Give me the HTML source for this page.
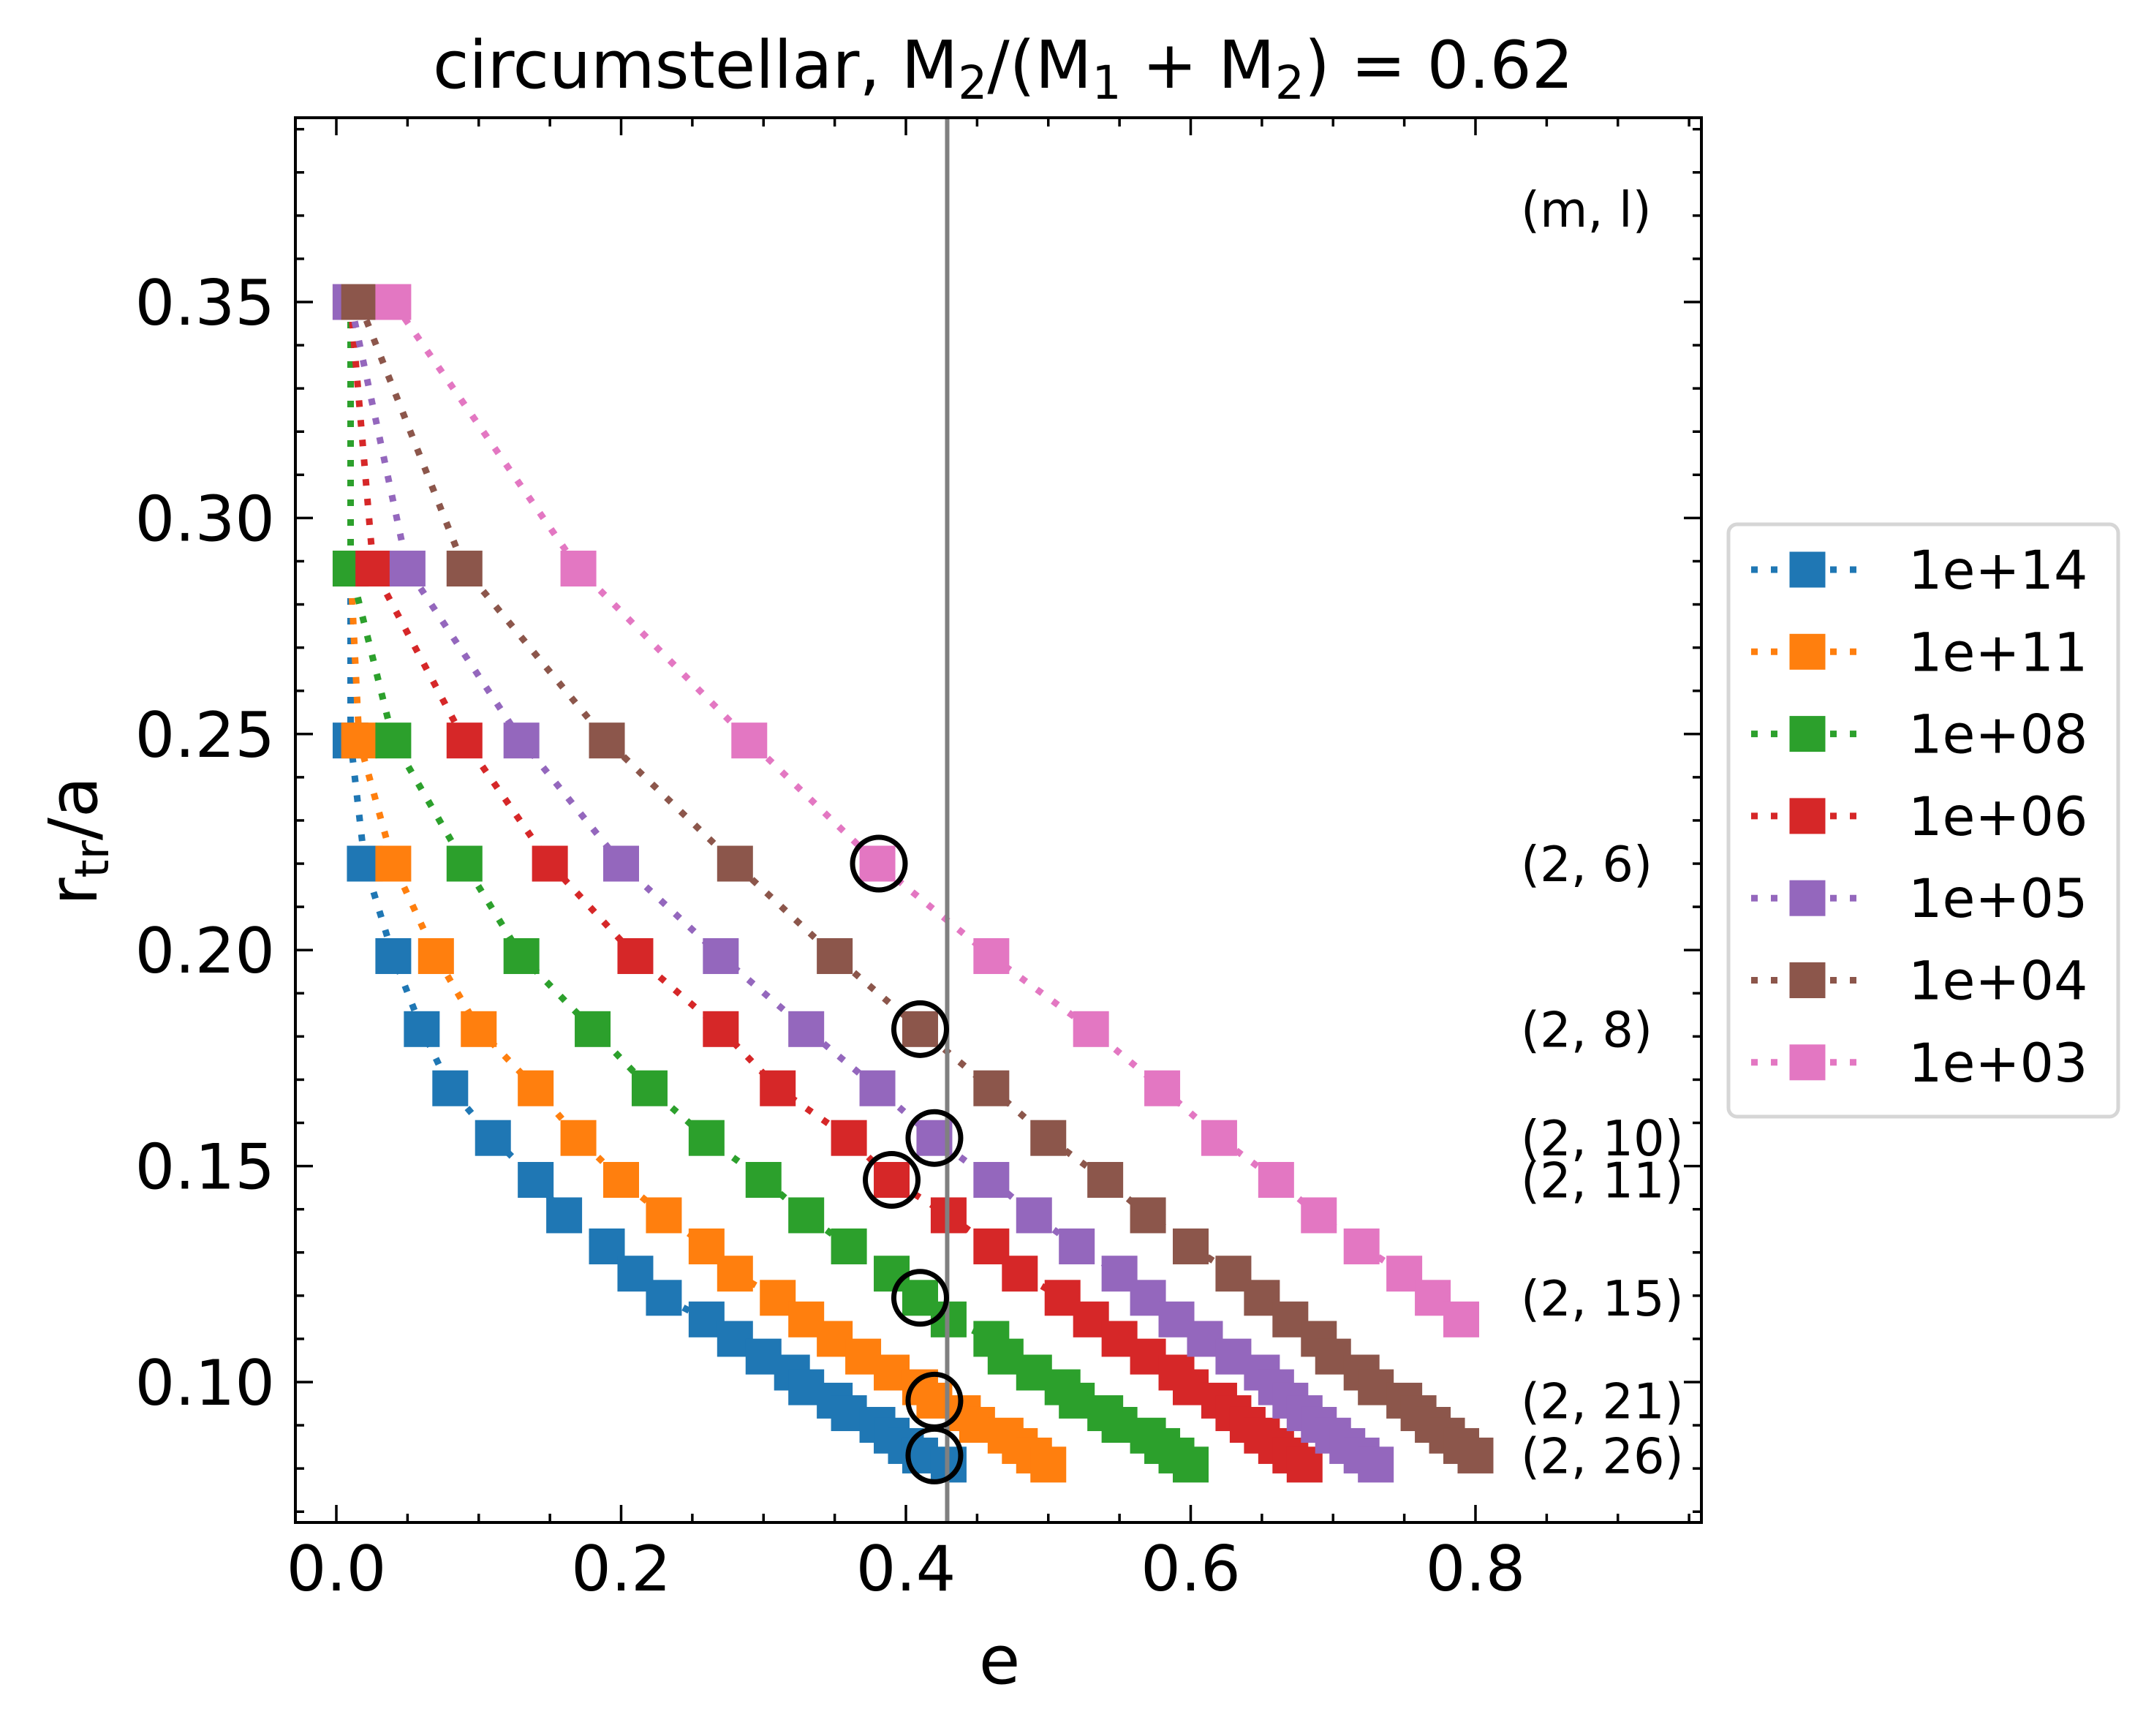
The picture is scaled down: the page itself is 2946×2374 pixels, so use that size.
<!DOCTYPE html>
<html><head><meta charset="utf-8">
<style>
html,body{margin:0;padding:0;background:#fff;}
svg{display:block;font-family:"DejaVu Sans","Liberation Sans",sans-serif;}
</style></head>
<body>
<svg id="chart" width="2946" height="2374" viewBox="0 0 2946 2374" xmlns="http://www.w3.org/2000/svg">
<rect width="2946" height="2374" fill="#fff"/>
<text x="1372" y="120" font-size="90" text-anchor="middle">circumstellar, M<tspan font-size="63" dy="15">2</tspan><tspan dy="-15">/(M</tspan><tspan font-size="63" dy="15">1</tspan><tspan dy="-15"> + M</tspan><tspan font-size="63" dy="15">2</tspan><tspan dy="-15">) = 0.62</tspan></text>
<g id="plot"></g>
<g id="axes"></g>
<text x="1367" y="2302" font-size="92" text-anchor="middle">e</text>
<text transform="translate(132,1150) rotate(-90)" font-size="92" text-anchor="middle">r<tspan font-size="64" dy="16">tr</tspan><tspan dy="-16">/a</tspan></text>
<g id="legend"></g>
</svg>
<script>
const rLevels = [0.350,0.2883,0.2485,0.2200,0.1986,0.1817,0.1680,0.1565,0.1468,0.1386,0.1314,0.1251,0.1195,0.1145,0.1100,0.1059,0.1022,0.0988,0.0957,0.0928,0.0901,0.0876,0.0852,0.0830,0.0809];
const seriesNames = ["1e+14","1e+11","1e+08","1e+06","1e+05","1e+04","1e+03"];
const seriesColors = ["#1f77b4","#ff7f0e","#2ca02c","#d62728","#9467bd","#8c564b","#e377c2"];
const eBlue   = [0.01,0.01,0.01,0.02,0.04,0.06,0.08,0.11,0.14,0.16,0.19,0.21,0.23,0.26,0.28,0.30,0.32,0.33,0.35,0.36,0.38,0.39,0.40,0.41,0.43];
const eOrange = [0.01,0.01,0.016,0.04,0.07,0.10,0.14,0.17,0.20,0.23,0.26,0.28,0.31,0.33,0.35,0.37,0.39,0.41,0.42,0.44,0.45,0.47,0.48,0.49,0.50];
const eGreen  = [0.01,0.01,0.04,0.09,0.13,0.18,0.22,0.26,0.30,0.33,0.36,0.39,0.41,0.43,0.46,0.47,0.49,0.51,0.52,0.54,0.55,0.57,0.58,0.59,0.60];
const eRed    = [0.01,0.026,0.09,0.15,0.21,0.27,0.31,0.36,0.39,0.43,0.46,0.48,0.51,0.53,0.55,0.57,0.59,0.60,0.62,0.63,0.64,0.65,0.66,0.67,0.68];
const ePurple = [0.01,0.05,0.13,0.20,0.27,0.33,0.38,0.42,0.46,0.49,0.52,0.55,0.57,0.59,0.61,0.63,0.65,0.66,0.67,0.68,0.69,0.70,0.71,0.72,0.73];
const eBrown  = [0.016,0.09,0.19,0.28,0.35,0.41,0.46,0.50,0.54,0.57,0.60,0.63,0.65,0.67,0.69,0.70,0.72,0.73,0.75,0.76,0.77,0.78,0.79,0.80];
const ePink   = [0.04,0.17,0.29,0.38,0.46,0.53,0.58,0.62,0.66,0.69,0.72,0.75,0.77,0.79];
const circleE = [0.381,0.41,0.42,0.39,0.41,0.42,0.42];
const circleR = [0.2200,0.1817,0.1565,0.1468,0.1195,0.0957,0.0830];
const resLabels = ["(2, 6)","(2, 8)","(2, 10)","(2, 11)","(2, 15)","(2, 21)","(2, 26)"];
const resLabelR = [0.2200,0.1817,0.1565,0.1468,0.1195,0.0957,0.0830];
const xTicks = [0.0,0.2,0.4,0.6,0.8];
const xTickLabels = ["0.0","0.2","0.4","0.6","0.8"];
const yTicks = [0.10,0.15,0.20,0.25,0.30,0.35];
const yTickLabels = ["0.10","0.15","0.20","0.25","0.30","0.35"];
const vLineE = 0.429;

const NS="http://www.w3.org/2000/svg";
const L=404,R=2327,T=161,B=2082;
const X0=460,XS=1947.5,Y0=413,YS=5908;
function xs(e){return X0+e*XS;}
function ys(r){return Y0+(0.35-r)*YS;}
function mk(tag,attrs,parent){const el=document.createElementNS(NS,tag);for(const k in attrs)el.setAttribute(k,attrs[k]);parent.appendChild(el);return el;}
const plot=document.getElementById('plot'), axes=document.getElementById('axes'), legend=document.getElementById('legend');
const cp=mk('clipPath',{id:'clip'},plot);
mk('rect',{x:L,y:T,width:R-L,height:B-T},cp);
const pg=mk('g',{'clip-path':'url(#clip)'},plot);

const allE=[eBlue,eOrange,eGreen,eRed,ePurple,eBrown,ePink];
const M=49;
allE.forEach((arr,si)=>{
  const g=mk('g',{},pg);
  
  
  const pts=arr.map((e,i)=>xs(e).toFixed(1)+','+ys(rLevels[i]).toFixed(1)).join(' ');
  const pl=mk('polyline',{points:pts,fill:'none',stroke:seriesColors[si],'stroke-width':9,'stroke-dasharray':'9 18'},g);
  
  
  arr.forEach((e,i)=>{
    const r=mk('rect',{x:xs(e)-M/2,y:ys(rLevels[i])-M/2,width:M,height:M,fill:seriesColors[si]},g);
    
    
  });
});
const vl=mk('line',{x1:xs(vLineE),x2:xs(vLineE),y1:T,y2:B,stroke:'#808080','stroke-width':6},pg);


circleE.forEach((e,i)=>{
  const c=mk('circle',{cx:xs(e),cy:ys(circleR[i]),r:36,fill:'none',stroke:'#000','stroke-width':7},pg);
  
  
});
const ml=mk('text',{x:2080,y:ys(0.35)-103,'font-size':67},plot);
ml.textContent='(m, l)';


resLabels.forEach((s,i)=>{
  const t=mk('text',{x:2080,y:ys(resLabelR[i])+24,'font-size':67},plot);
  t.textContent=s;
  
  
});
const fr=mk('rect',{x:L,y:T,width:R-L,height:B-T,fill:'none',stroke:'#000','stroke-width':4},axes);


for(let k=0;k<=19;k++){
  const e=k*0.05; const x=xs(e); if(x<L||x>R)continue;
  const major=(k%4===0); const len=major?24:12;
  mk('line',{x1:x,x2:x,y1:B,y2:B-len,stroke:'#000','stroke-width':3.5},axes);
  mk('line',{x1:x,x2:x,y1:T,y2:T+len,stroke:'#000','stroke-width':3.5},axes);
}
xTicks.forEach((v,i)=>{
  const t=mk('text',{x:xs(v),y:2175,'font-size':86,'text-anchor':'middle'},axes);
  t.textContent=xTickLabels[i];
  
  
});
for(let k=7;k<=39;k++){
  const v=k*0.01; const y=ys(v); if(y<T||y>B)continue;
  const major=(k%5===0); const len=major?24:12;
  mk('line',{x1:L,x2:L+len,y1:y,y2:y,stroke:'#000','stroke-width':3.5},axes);
  mk('line',{x1:R,x2:R-len,y1:y,y2:y,stroke:'#000','stroke-width':3.5},axes);
}
yTicks.forEach((v,i)=>{
  const t=mk('text',{x:376,y:ys(v)+31,'font-size':86,'text-anchor':'end'},axes);
  t.textContent=yTickLabels[i];
  
  
});
const lb=mk('rect',{x:2364,y:717,width:533,height:810,rx:12,fill:'#fff',stroke:'#d6d6d6','stroke-width':5},legend);


seriesNames.forEach((n,i)=>{
  const y=779+i*112.3;
  const g=mk('g',{},legend);
  
  
  mk('line',{x1:2395,x2:2543,y1:y,y2:y,stroke:seriesColors[i],'stroke-width':9,'stroke-dasharray':'9 18'},g);
  mk('rect',{x:2472-M/2,y:y-M/2,width:M,height:M,fill:seriesColors[i]},g);
  const t=mk('text',{x:2610,y:y+26,'font-size':73},g);
  t.textContent=n;
});
</script>
</body></html>
